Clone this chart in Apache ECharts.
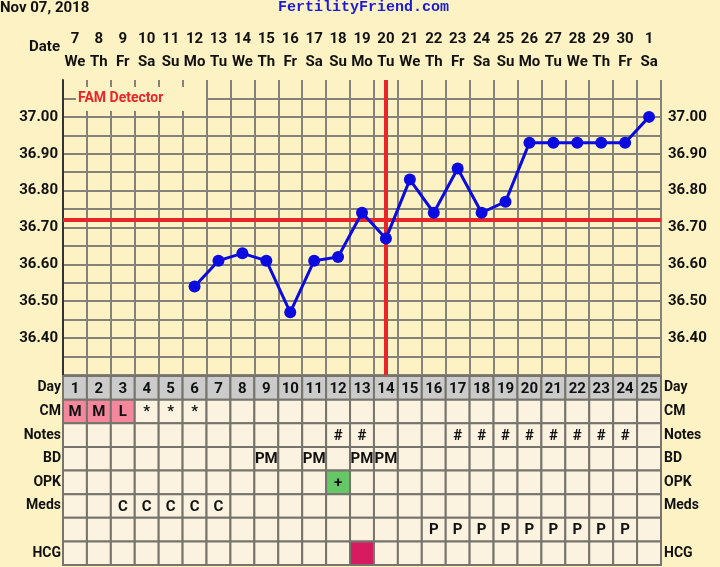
<!DOCTYPE html>
<html><head><meta charset="utf-8">
<script src="https://cdn.jsdelivr.net/npm/echarts@6/dist/echarts.min.js"></script>
<style>html,body{margin:0;padding:0;background:#FDF2C4;}#c{width:720px;height:567px;}</style>
</head><body><div id="c"></div>
<script>
const days = ['1','2','3','4','5','6','7','8','9','10','11','12','13','14','15','16','17','18','19','20','21','22','23','24','25'];
const dates = ['7','8','9','10','11','12','13','14','15','16','17','18','19','20','21','22','23','24','25','26','27','28','29','30','1'];
const weekdays = ['We','Th','Fr','Sa','Su','Mo','Tu','We','Th','Fr','Sa','Su','Mo','Tu','We','Th','Fr','Sa','Su','Mo','Tu','We','Th','Fr','Sa'];
const temps = [null,null,null,null,null,36.54,36.61,36.63,36.61,36.47,36.61,36.62,36.74,36.67,36.83,36.74,36.86,36.74,36.77,36.93,36.93,36.93,36.93,36.93,37.00];
const coverline = 36.72;
const ovulationDay = '14';
const rowLabels = ['Day','CM','Notes','BD','OPK','Meds','','HCG'];
const cmRow    = ['M','M','L','*','*','*','','','','','','','','','','','','','','','','','','',''];
const notesRow = ['','','','','','','','','','','','#','#','','','','#','#','#','#','#','#','#','#',''];
const bdRow    = ['','','','','','','','','PM','','PM','','PM','PM','','','','','','','','','','',''];
const opkRow   = ['','','','','','','','','','','','+','','','','','','','','','','','','',''];
const medsRow  = ['','','C','C','C','C','C','','','','','','','','','','','','','','','','','',''];
const pRow     = ['','','','','','','','','','','','','','','','P','P','P','P','P','P','P','P','P',''];
const hcgRow   = ['','','','','','','','','','','','','','','','','','','','','','','','',''];
const cmMarked  = [1,1,1,0,0,0,0,0,0,0,0,0,0,0,0,0,0,0,0,0,0,0,0,0,0];
const opkMarked = [0,0,0,0,0,0,0,0,0,0,0,1,0,0,0,0,0,0,0,0,0,0,0,0,0];
const hcgMarked = [0,0,0,0,0,0,0,0,0,0,0,0,1,0,0,0,0,0,0,0,0,0,0,0,0];

const BG = '#FDF2C4', CELL = '#FBF2DF', GREY = '#CBCBCB', PINK = '#F4879B', GREEN = '#66C766', MAG = '#D81B60';
const tableRows = [days, cmRow, notesRow, bdRow, opkRow, medsRow, pRow, hcgRow];
const cells = [], cellText = [], cellFill = [];
tableRows.forEach((row, r) => {
  row.forEach((t, d) => {
    cells.push([d, r]);
    cellText.push(t);
    let f = CELL;
    if (r === 0) f = GREY;
    if (r === 1 && cmMarked[d]) f = PINK;
    if (r === 4 && opkMarked[d]) f = GREEN;
    if (r === 7 && hcgMarked[d]) f = MAG;
    cellFill.push(f);
  });
});

const chart = echarts.init(document.getElementById('c'));
const tempLabel = v => {
  const k = Math.round(v * 100);
  return (k % 10 === 0 && k >= 3640 && k <= 3700) ? (k / 100).toFixed(2) : '';
};
const gridLine = {show: true, showMaxLine: false, lineStyle: {color: '#858379', width: 2}};
chart.setOption({
  backgroundColor: BG,
  animation: false,
  grid: [
    {left: 63, right: 59, top: 80, bottom: 192, show: true, backgroundColor: BG, borderWidth: 0},
    {left: 63, right: 59, top: 376, height: 189, borderWidth: 0}
  ],
  xAxis: [
    {type: 'category', gridIndex: 0, data: days, position: 'top', boundaryGap: true,
     axisLine: {show: false}, axisTick: {show: false},
     splitLine: {show: true, interval: 0, lineStyle: {color: '#858379', width: 2}},
     axisLabel: {interval: 0, margin: 6,
       formatter: (v, i) => '{a|' + dates[i] + '}\n{b|' + weekdays[i] + '}',
       rich: {a: {fontFamily: 'Roboto', fontWeight: 'bold', fontSize: 15, color: '#111', lineHeight: 23, align: 'center'},
              b: {fontFamily: 'Roboto', fontWeight: 'bold', fontSize: 15, color: '#111', lineHeight: 23, align: 'center'}}}},
    {type: 'category', gridIndex: 1, data: days, show: false}
  ],
  yAxis: [
    {type: 'value', gridIndex: 0, min: 36.30, max: 37.10, interval: 0.05, position: 'left',
     axisLine: {show: true, lineStyle: {color: '#333', width: 2}}, axisTick: {show: false},
     splitLine: gridLine,
     axisLabel: {formatter: tempLabel, margin: 5, fontFamily: 'Roboto', fontWeight: 'bold', fontSize: 15, color: '#111'}},
    {type: 'value', gridIndex: 0, min: 36.30, max: 37.10, interval: 0.05, position: 'right',
     axisLine: {show: false}, axisTick: {show: false}, splitLine: {show: false},
     axisLabel: {formatter: tempLabel, margin: 7, fontFamily: 'Roboto', fontWeight: 'bold', fontSize: 15, color: '#111'}},
    {type: 'category', gridIndex: 1, data: rowLabels, inverse: true, position: 'left',
     axisLine: {show: false}, axisTick: {show: false},
     axisLabel: {interval: 0, margin: 2, fontFamily: 'Roboto', fontWeight: 'bold', fontSize: 14, color: '#111'}},
    {type: 'category', gridIndex: 1, data: rowLabels, inverse: true, position: 'right',
     axisLine: {show: false}, axisTick: {show: false},
     axisLabel: {interval: 0, margin: 3, fontFamily: 'Roboto', fontWeight: 'bold', fontSize: 14, color: '#111'}}
  ],
  graphic: [
    {type: 'rect', z: 1, shape: {x: 76, y: 87, width: 130, height: 24}, style: {fill: BG}},
    {type: 'text', z: 2, style: {text: 'FAM Detector', x: 78, y: 98, verticalAlign: 'middle', font: 'bold 14px Roboto', fill: '#E8262A'}},
    {type: 'text', style: {text: 'Nov 07, 2018', x: 0, y: 8, verticalAlign: 'middle', font: 'bold 15px Roboto', fill: '#111'}},
    {type: 'text', style: {text: 'FertilityFriend.com', x: 278, y: 7, verticalAlign: 'middle', font: 'bold 15px "Liberation Mono"', fill: '#1c1cd6'}},
    {type: 'text', style: {text: 'Date', x: 60, y: 47, align: 'right', verticalAlign: 'middle', font: 'bold 15px Roboto', fill: '#111'}}
  ],
  series: [
    {type: 'line', xAxisIndex: 0, yAxisIndex: 0, data: temps, z: 5,
     symbol: 'circle', symbolSize: 12, connectNulls: false,
     lineStyle: {color: '#0b0be0', width: 3}, itemStyle: {color: '#0b0be0'},
     markLine: {silent: true, symbol: 'none', label: {show: false},
       lineStyle: {color: '#E8262A', width: 4, type: 'solid', opacity: 1},
       emphasis: {disabled: true},
       data: [{xAxis: ovulationDay}, {yAxis: coverline}]}},
    {type: 'custom', xAxisIndex: 1, yAxisIndex: 2, data: cells, encode: {x: 0, y: 1},
     renderItem: (params, api) => {
       const c = api.coord([api.value(0), api.value(1)]);
       const s = api.size([1, 1]);
       const i = params.dataIndex;
       return {type: 'group', children: [
         {type: 'rect', shape: {x: c[0] - s[0] / 2, y: c[1] - s[1] / 2, width: s[0], height: s[1]},
          style: {fill: cellFill[i], stroke: '#76746d', lineWidth: 2}},
         {type: 'text', style: {text: cellText[i], x: c[0], y: c[1] + 1, align: 'center', verticalAlign: 'middle',
          font: 'bold 15px Roboto', fill: '#111'}}
       ]};
     }}
  ]
});
</script></body></html>
